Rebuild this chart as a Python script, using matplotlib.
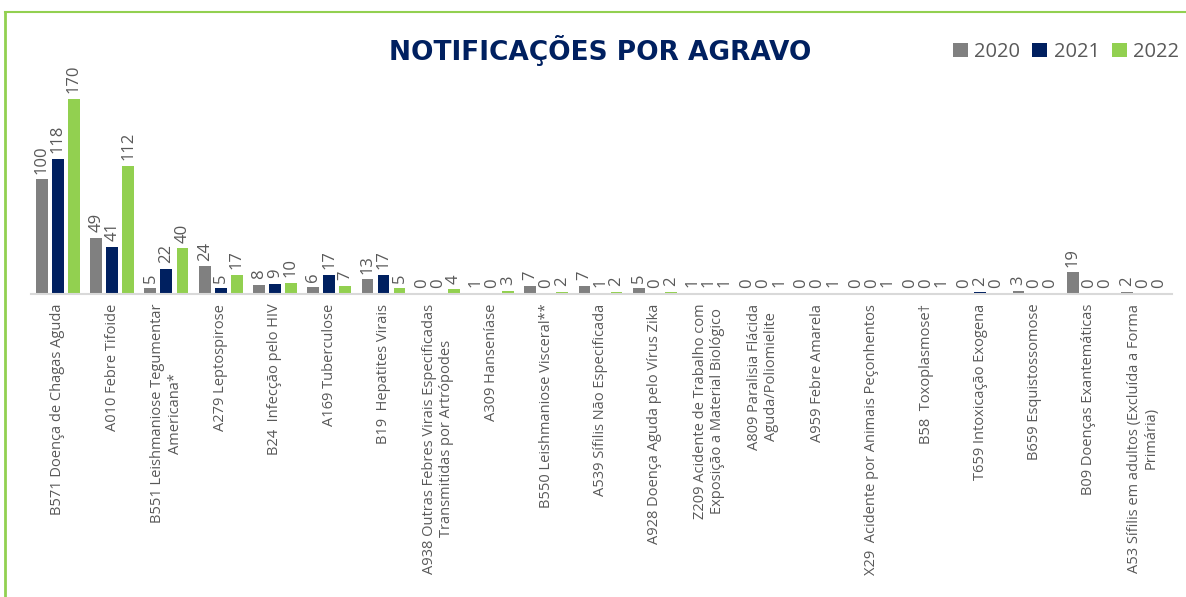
import numpy as np
import matplotlib.pyplot as plt
from matplotlib.lines import Line2D

# Data
agravos = [
    "B571 Doença de Chagas Aguda",
    "A010 Febre Tifoide",
    "B551 Leishmaniose Tegumentar\nAmericana*",
    "A279 Leptospirose",
    "B24  Infecção pelo HIV",
    "A169 Tuberculose",
    "B19  Hepatites Virais",
    "A938 Outras Febres Virais Especificadas\nTransmitidas por Artrópodes",
    "A309 Hanseníase",
    "B550 Leishmaniose Visceral**",
    "A539 Sífilis Não Especificada",
    "A928 Doença Aguda pelo Vírus Zika",
    "Z209 Acidente de Trabalho com\nExposição a Material Biológico",
    "A809 Paralisia Flácida\nAguda/Poliomielite",
    "A959 Febre Amarela",
    "X29  Acidente por Animais Peçonhentos",
    "B58  Toxoplasmose†",
    "T659 Intoxicação Exogena",
    "B659 Esquistossomose",
    "B09 Doenças Exantemáticas",
    "A53 Sífilis em adultos (Excluída a Forma\nPrimária)",
]
anos = ["2020", "2021", "2022"]
v2020 = [100, 49, 5, 24, 8, 6, 13, 0, 1, 7, 7, 5, 1, 0, 0, 0, 0, 0, 3, 19, 2]
v2021 = [118, 41, 22, 5, 9, 17, 17, 0, 0, 0, 1, 0, 1, 0, 0, 0, 0, 2, 0, 0, 0]
v2022 = [170, 112, 40, 17, 10, 7, 5, 4, 3, 2, 2, 2, 1, 1, 1, 1, 1, 0, 0, 0, 0]

cores = ["#808080", "#002060", "#92D050"]
cinza = "#595959"

plt.rcParams['font.family'] = ['Open Sans', 'DejaVu Sans']

fig = plt.figure(figsize=(11.86, 5.97), dpi=100)
ax = fig.add_axes([0.026, 0.5075, 0.962, 0.4035])

x = np.arange(len(agravos))
w = 0.22
off = 0.295
for i, (vals, cor, ano) in enumerate(zip([v2020, v2021, v2022], cores, anos)):
    bars = ax.bar(x + (i - 1) * off, vals, w, color=cor, label=ano)
    ax.bar_label(bars, rotation=90, padding=4, fontsize=12, color=cinza)

ax.set_xlim(-0.5, len(agravos) - 0.47)
ax.set_ylim(0, 210)
ax.set_yticks([])
for s in ['top', 'right', 'left']:
    ax.spines[s].set_visible(False)
ax.spines['bottom'].set_color('#D9D9D9')
ax.spines['bottom'].set_linewidth(1.5)
ax.set_xticks(x)
ax.set_xticklabels(agravos, rotation=90, fontsize=10.5, color=cinza,
                   ha='center', va='top', multialignment='center')
ax.tick_params(axis='x', length=0, pad=7)

fig.text(0.506, 0.916, "NOTIFICAÇÕES POR AGRAVO", fontsize=19, fontweight='bold',
         color="#002060", ha='center', va='center', family='DejaVu Sans')

fig.legend(loc='center right', bbox_to_anchor=(0.994, 0.913), ncol=3, frameon=False,
           fontsize=14.5, handlelength=0.75, handleheight=0.75, handletextpad=0.3,
           columnspacing=0.6, labelcolor=cinza, borderaxespad=0, borderpad=0)

# moldura verde
fig.add_artist(Line2D([0.0046, 0.0046], [0, 0.98], transform=fig.transFigure,
                      color="#92D050", lw=2))
fig.add_artist(Line2D([0.0046, 1.0], [0.98, 0.98], transform=fig.transFigure,
                      color="#92D050", lw=1.5))

fig.savefig("out.png", dpi=100)
